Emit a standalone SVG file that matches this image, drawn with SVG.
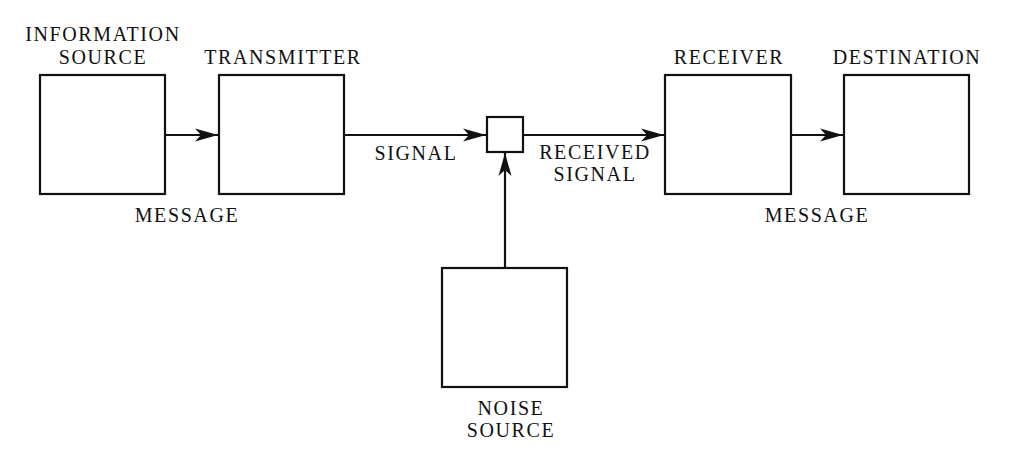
<svg xmlns="http://www.w3.org/2000/svg" width="1024" height="453" viewBox="0 0 1024 453">
<style>
.box{fill:#fff;stroke:#111;stroke-width:2.2}
.ln{fill:none;stroke:#111;stroke-width:2.2}
text{font-family:"Liberation Serif","Times New Roman",serif;font-size:20px;letter-spacing:1.6px;fill:#111;text-anchor:middle}
</style>
<defs>
<marker id="ah" markerUnits="userSpaceOnUse" markerWidth="24" markerHeight="14" refX="23" refY="7" orient="auto" viewBox="0 0 24 14">
<path d="M0,0.5 L23,7 L0,13.5 L6,7 Z" fill="#111"/>
</marker>
</defs>
<rect width="1024" height="453" fill="#fff"/>
<g id="connectors">
<line class="ln" x1="165" y1="135" x2="218" y2="135" marker-end="url(#ah)"/>
<line class="ln" x1="344" y1="135" x2="486" y2="135" marker-end="url(#ah)"/>
<line class="ln" x1="523" y1="135" x2="664" y2="135" marker-end="url(#ah)"/>
<line class="ln" x1="791" y1="135" x2="843" y2="135" marker-end="url(#ah)"/>
<line class="ln" x1="505" y1="268" x2="505" y2="153" marker-end="url(#ah)"/>
</g>
<g id="information-source">
<rect class="box" x="40" y="75" width="125" height="119"/>
<text x="103" y="41">INFORMATION</text>
<text x="103" y="64">SOURCE</text>
</g>
<g id="transmitter">
<rect class="box" x="219" y="75" width="125" height="119"/>
<text x="283" y="64">TRANSMITTER</text>
</g>
<g id="message-left"><text x="187" y="222">MESSAGE</text></g>
<g id="junction">
<rect class="box" x="487" y="117" width="36" height="35"/>
</g>
<g id="signal-label"><text x="416" y="160">SIGNAL</text></g>
<g id="received-signal-label">
<text x="595" y="159">RECEIVED</text>
<text x="595" y="181">SIGNAL</text>
</g>
<g id="receiver">
<rect class="box" x="665" y="75" width="126" height="119"/>
<text x="729" y="64">RECEIVER</text>
</g>
<g id="destination">
<rect class="box" x="844" y="75" width="125" height="119"/>
<text x="907" y="64">DESTINATION</text>
</g>
<g id="message-right"><text x="817" y="222">MESSAGE</text></g>
<g id="noise-source">
<rect class="box" x="442" y="268" width="125" height="119"/>
<text x="511" y="415">NOISE</text>
<text x="511" y="437">SOURCE</text>
</g>
</svg>
